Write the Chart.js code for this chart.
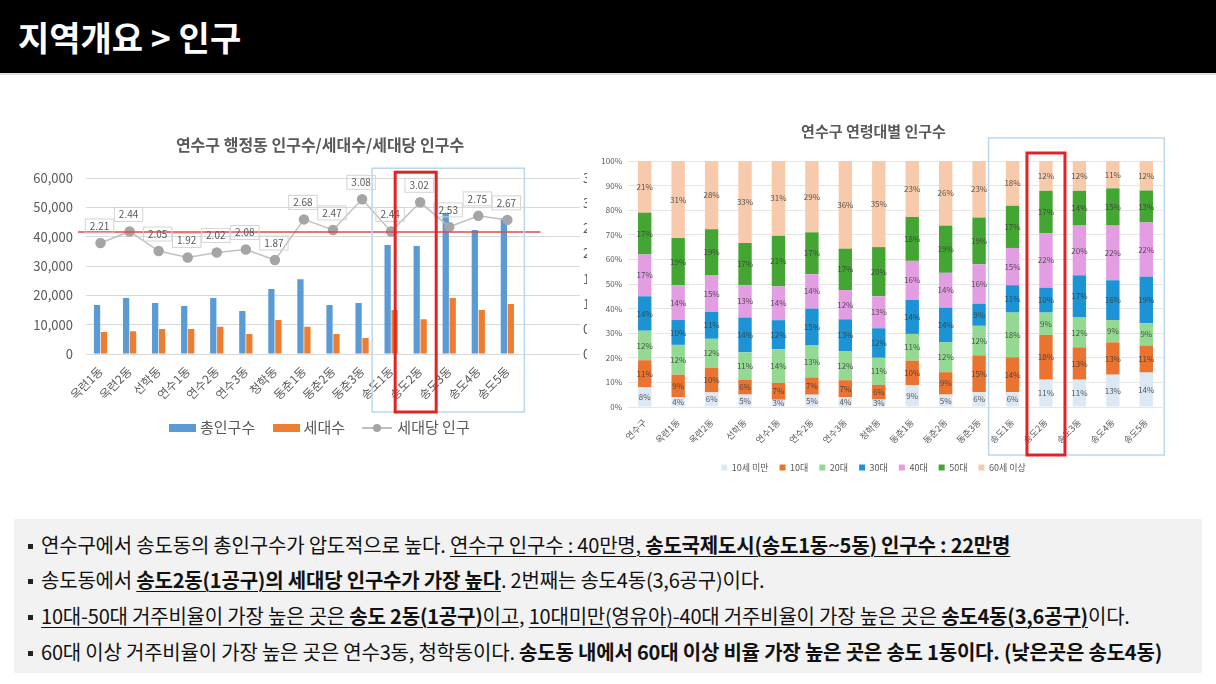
<!DOCTYPE html>
<html>
  <head>
    <meta charset="utf-8">
    <style>
      html, body {
        margin: 0;
        background: #fff;
      }
      body {
        width: 1216px;
        height: 684px;
        position: relative;
        overflow: hidden;
        font-family: "Noto Sans CJK KR", "Noto Sans", sans-serif;
      }
      #header {
        position: absolute;
        left: 0; top: 0;
        width: 1216px; height: 73px;
        background: #000;
        border-bottom: 2px solid #e2e2e2;
      }
      #header span {
        position: absolute;
        left: 18px; top: 0;
        line-height: 73px;
        color: #fff;
        font-size: 34px;
        font-weight: 700;
      }
      #left-wrap {
        position: absolute;
        left: 0; top: 115px;
        width: 587px; height: 300px;
        overflow: hidden;
      }
      #right-wrap {
        position: absolute;
        left: 584px; top: 110px;
        width: 600px; height: 376px;
      }
      #left-legend {
        position: absolute;
        left: 169px; top: 414px;
        height: 22px;
        font-size: 15px;
        color: #595959;
        white-space: nowrap;
      }
      #left-legend .item { display: inline-block; margin-right: 14px; vertical-align: middle; }
      #left-legend .sw { display: inline-block; width: 27px; height: 8px; margin-right: 4px; vertical-align: middle; position: relative; top: -1px; }
      #left-legend .ln { display: inline-block; width: 30px; height: 2px; background: #bfbfbf; margin-right: 5px; vertical-align: middle; position: relative; top: -1px; }
      #left-legend .ln i { position: absolute; left: 11px; top: -3px; width: 8px; height: 8px; border-radius: 50%; background: #a5a5a5; }
      #notes {
        position: absolute;
        left: 14px; top: 519px;
        width: 1188px; height: 154px;
        background: #f2f2f2;
        font-size: 20px;
        letter-spacing: -0.2px;
        color: #111;
      }
      #notes p {
        margin: 0;
        position: absolute;
        left: 14px;
        white-space: nowrap;
        line-height: 24px;
      }
      #notes .bl { display: inline-block; width: 5px; height: 5px; background: #222; margin-right: 8px; vertical-align: middle; position: relative; top: -1px; }
      #notes b { font-weight: 700; }
      #notes u { text-decoration-thickness: 1px; text-underline-offset: 3px; }
    </style>
    <script src="https://cdn.jsdelivr.net/npm/chart.js"></script>
  </head>
  <body>
    <div id="header"><span>지역개요 &gt; 인구</span></div>

    <div id="left-wrap"><canvas id="popChart" width="640" height="300"></canvas></div>
    <div id="left-legend">
      <span class="item"><span class="sw" style="background:#5b9bd5"></span>총인구수</span>
      <span class="item"><span class="sw" style="background:#ed7d31"></span>세대수</span>
      <span class="item"><span class="ln"><i></i></span>세대당 인구</span>
    </div>

    <div id="right-wrap"><canvas id="ageChart" width="600" height="376"></canvas></div>

    <div id="notes">
      <p style="top:14px"><span class="bl"></span>연수구에서 송도동의 총인구수가 압도적으로 높다. <u>연수구 인구수 : 40만명, <b>송도국제도시(송도1동~5동) 인구수 : 22만명</b></u></p>
      <p style="top:49px"><span class="bl"></span>송도동에서 <b><u>송도2동(1공구)의 세대당 인구수가 가장 높다</u></b>. 2번째는 송도4동(3,6공구)이다.</p>
      <p style="top:85px"><span class="bl"></span><u>10대-50대 거주비율이 가장 높은 곳은 <b>송도 2동(1공구)</b>이고</u>, <u>10대미만(영유아)-40대 거주비율이 가장 높은 곳은 <b>송도4동(3,6공구)</b></u>이다.</p>
      <p style="top:121px"><span class="bl"></span>60대 이상 거주비율이 가장 높은 곳은 연수3동, 청학동이다. <b>송도동 내에서 60대 이상 비율 가장 높은 곳은 송도 1동이다. (낮은곳은 송도4동)</b></p>
    </div>

    <script>
      // ---- data ----
      const dongs = ['옥련1동', '옥련2동', '선학동', '연수1동', '연수2동', '연수3동', '청학동', '동춘1동',
                     '동춘2동', '동춘3동', '송도1동', '송도2동', '송도3동', '송도4동', '송도5동'];
      const totalPop = [16700, 19100, 17400, 16400, 19100, 14700, 22200, 25500, 16700, 17400, 37200, 36900, 48100, 42300, 46300];
      const households = [7500, 7800, 8500, 8500, 9300, 6800, 11600, 9300, 6800, 5500, 15000, 11900, 19100, 15000, 17100];
      const perHousehold = [2.21, 2.44, 2.05, 1.92, 2.02, 2.08, 1.87, 2.68, 2.47, 3.08, 2.44, 3.02, 2.53, 2.75, 2.67];
      const guAverage = 2.43; // red reference line

      const areas = ['연수구'].concat(dongs);
      const ageGroups = ['10세 미만', '10대', '20대', '30대', '40대', '50대', '60세 이상'];
      const under10   = [8, 4, 6, 5, 3, 5, 4, 3, 9, 5, 6, 6, 11, 11, 13, 14];
      const teens     = [11, 9, 10, 6, 7, 7, 7, 6, 10, 9, 15, 14, 18, 13, 13, 11];
      const twenties  = [12, 12, 12, 11, 14, 13, 12, 11, 11, 12, 12, 18, 9, 12, 9, 9];
      const thirties  = [14, 10, 11, 14, 12, 15, 13, 12, 14, 14, 9, 11, 10, 17, 16, 19];
      const forties   = [17, 14, 15, 13, 14, 14, 12, 13, 16, 14, 16, 15, 22, 20, 22, 22];
      const fifties   = [17, 19, 19, 17, 21, 17, 17, 20, 18, 19, 19, 17, 17, 14, 15, 13];
      const sixtyPlus = [21, 31, 28, 33, 31, 29, 36, 35, 23, 26, 23, 18, 12, 12, 11, 12];
      const ageColors = ['#dde8f5', '#eb7330', '#93d991', '#1b93d5', '#e39de2', '#44a632', '#f7caab'];

      const FONT = '"Noto Sans CJK KR", "Noto Sans", sans-serif';
      const GREY = '#595959';
      Chart.defaults.font.family = FONT;
      Chart.defaults.color = GREY;

      // ---- left chart: population / households / per household ----
      const popAnnotations = {
        id: 'popAnnotations',
        afterDatasetsDraw(chart) {
          const ctx = chart.ctx;
          const x = chart.scales.x, y1 = chart.scales.y1, area = chart.chartArea;
          ctx.save();
          // average line
          const ay = y1.getPixelForValue(guAverage);
          ctx.strokeStyle = '#e04848';
          ctx.lineWidth = 1.5;
          ctx.beginPath();
          ctx.moveTo(area.left - 8, ay);
          ctx.lineTo(x.getPixelForValue(15) + 4, ay);
          ctx.stroke();
          // value boxes
          const meta = chart.getDatasetMeta(0);
          ctx.font = '10px ' + FONT;
          ctx.textAlign = 'center';
          ctx.textBaseline = 'middle';
          meta.data.forEach(function (pt, i) {
            const txt = perHousehold[i].toFixed(2);
            const w = ctx.measureText(txt).width + 9;
            const cx = pt.x - 1, cy = pt.y - 17;
            ctx.strokeStyle = '#d4d4d4';
            ctx.lineWidth = 1;
            ctx.strokeRect(cx - w / 2, cy - 7, w, 14);
            ctx.fillStyle = GREY;
            ctx.fillText(txt, cx, cy);
          });
          // 송도 group box and 송도2동 highlight
          ctx.strokeStyle = '#bcd6ec';
          ctx.lineWidth = 1.5;
          ctx.strokeRect(x.getPixelForValue(10) - 19, area.top - 10,
                         x.getPixelForValue(14) + 17 - (x.getPixelForValue(10) - 19), area.bottom + 58 - (area.top - 10));
          ctx.strokeStyle = '#e32222';
          ctx.lineWidth = 3;
          ctx.strokeRect(x.getPixelForValue(11) - 25, area.top - 6, 41, area.bottom + 58 - (area.top - 6));
          ctx.restore();
        }
      };

      new Chart(document.getElementById('popChart'), {
        type: 'bar',
        data: {
          labels: dongs.concat(['', '']),
          datasets: [
            {
              type: 'line',
              label: '세대당 인구',
              data: perHousehold,
              yAxisID: 'y1',
              borderColor: '#c0c0c0',
              borderWidth: 1.5,
              backgroundColor: '#a5a5a5',
              pointBackgroundColor: '#a5a5a5',
              pointBorderColor: '#a5a5a5',
              pointRadius: 4.5,
              tension: 0,
              order: 0
            },
            {
              label: '총인구수',
              data: totalPop,
              backgroundColor: '#5b9bd5',
              categoryPercentage: 0.48,
              barPercentage: 0.9,
              order: 1
            },
            {
              label: '세대수',
              data: households,
              backgroundColor: '#ed7d31',
              categoryPercentage: 0.48,
              barPercentage: 0.9,
              order: 1
            }
          ]
        },
        options: {
          responsive: false,
          animation: false,
          layout: { padding: 0 },
          plugins: {
            legend: { display: false },
            tooltip: { enabled: false },
            title: {
              display: true,
              text: '연수구 행정동 인구수/세대수/세대당 인구수',
              color: GREY,
              font: { size: 16, weight: 'bold' },
              padding: { top: 20, bottom: 24 }
            }
          },
          scales: {
            x: {
              offset: true,
              grid: { display: false },
              border: { display: false },
              ticks: { autoSkip: false, minRotation: 45, maxRotation: 45, color: GREY, font: { size: 12 }, padding: 2 },
              afterFit: function (s) { s.height = 61; }
            },
            y: {
              position: 'left',
              min: 0, max: 60000,
              grid: { color: '#d9d9d9', drawTicks: false },
              border: { display: false },
              ticks: {
                stepSize: 10000, padding: 13, color: GREY, font: { size: 13 },
                callback: function (v) { return v.toLocaleString('en-US'); }
              },
              afterFit: function (s) { s.width = 86; }
            },
            y1: {
              position: 'right',
              min: 0, max: 3.5,
              grid: { display: false, drawTicks: false },
              border: { display: false },
              ticks: {
                stepSize: 0.5, padding: 3, color: GREY, font: { size: 13 },
                callback: function (v) { return v.toFixed(1); }
              },
              afterFit: function (s) { s.width = 60; }
            }
          }
        },
        plugins: [popAnnotations]
      });

      // ---- right chart: age group share (100% stacked) ----
      const ageSeries = [under10, teens, twenties, thirties, forties, fifties, sixtyPlus];
      const columnTotals = areas.map(function (_, i) {
        return ageSeries.reduce(function (s, arr) { return s + arr[i]; }, 0);
      });

      const ageAnnotations = {
        id: 'ageAnnotations',
        afterDatasetsDraw(chart) {
          const ctx = chart.ctx;
          const x = chart.scales.x, area = chart.chartArea;
          ctx.save();
          ctx.font = '8px ' + FONT;
          ctx.textAlign = 'center';
          ctx.textBaseline = 'middle';
          ctx.fillStyle = 'rgba(60,60,60,0.85)';
          chart.data.datasets.forEach(function (ds, di) {
            chart.getDatasetMeta(di).data.forEach(function (bar, i) {
              ctx.fillText(ageSeries[di][i] + '%', bar.x, (bar.y + bar.base) / 2);
            });
          });
          ctx.strokeStyle = '#bcd6ec';
          ctx.lineWidth = 1.5;
          const bl = x.getPixelForValue(11) - 24, br = x.getPixelForValue(15) + 18;
          ctx.strokeRect(bl, area.top - 23, br - bl, area.bottom + 48 - (area.top - 23));
          ctx.strokeStyle = '#e32222';
          ctx.lineWidth = 3;
          const rl = x.getPixelForValue(12) - 19;
          ctx.strokeRect(rl, area.top - 8, 38, area.bottom + 48 - (area.top - 8));
          ctx.restore();
        }
      };

      new Chart(document.getElementById('ageChart'), {
        type: 'bar',
        data: {
          labels: areas,
          datasets: ageGroups.map(function (name, k) {
            return {
              label: name,
              data: ageSeries[k].map(function (v, i) { return v / columnTotals[i] * 100; }),
              backgroundColor: ageColors[k],
              barPercentage: 0.4,
              categoryPercentage: 1
            };
          })
        },
        options: {
          responsive: false,
          animation: false,
          layout: { padding: { left: 0, right: 21, top: 0, bottom: 4 } },
          plugins: {
            tooltip: { enabled: false },
            title: {
              display: true,
              text: '연수구 연령대별 인구수',
              color: GREY,
              font: { size: 15, weight: 'bold' },
              padding: { top: 12, bottom: 21 }
            },
            legend: {
              position: 'bottom',
              labels: { boxWidth: 6, boxHeight: 6, color: GREY, font: { size: 9 }, padding: 11 }
            }
          },
          scales: {
            x: {
              stacked: true,
              grid: { display: false },
              border: { display: false },
              ticks: { autoSkip: false, minRotation: 45, maxRotation: 45, color: GREY, font: { size: 9 }, padding: 2 },
              afterFit: function (s) { s.height = 45; }
            },
            y: {
              stacked: true,
              min: 0, max: 100,
              grid: { color: '#e6e6e6', drawTicks: false },
              border: { display: false },
              ticks: {
                stepSize: 10, padding: 6, color: GREY, font: { size: 8 },
                callback: function (v) { return v + '%'; }
              },
              afterFit: function (s) { s.width = 44; }
            }
          }
        },
        plugins: [ageAnnotations]
      });
    </script>
  </body>
</html>
